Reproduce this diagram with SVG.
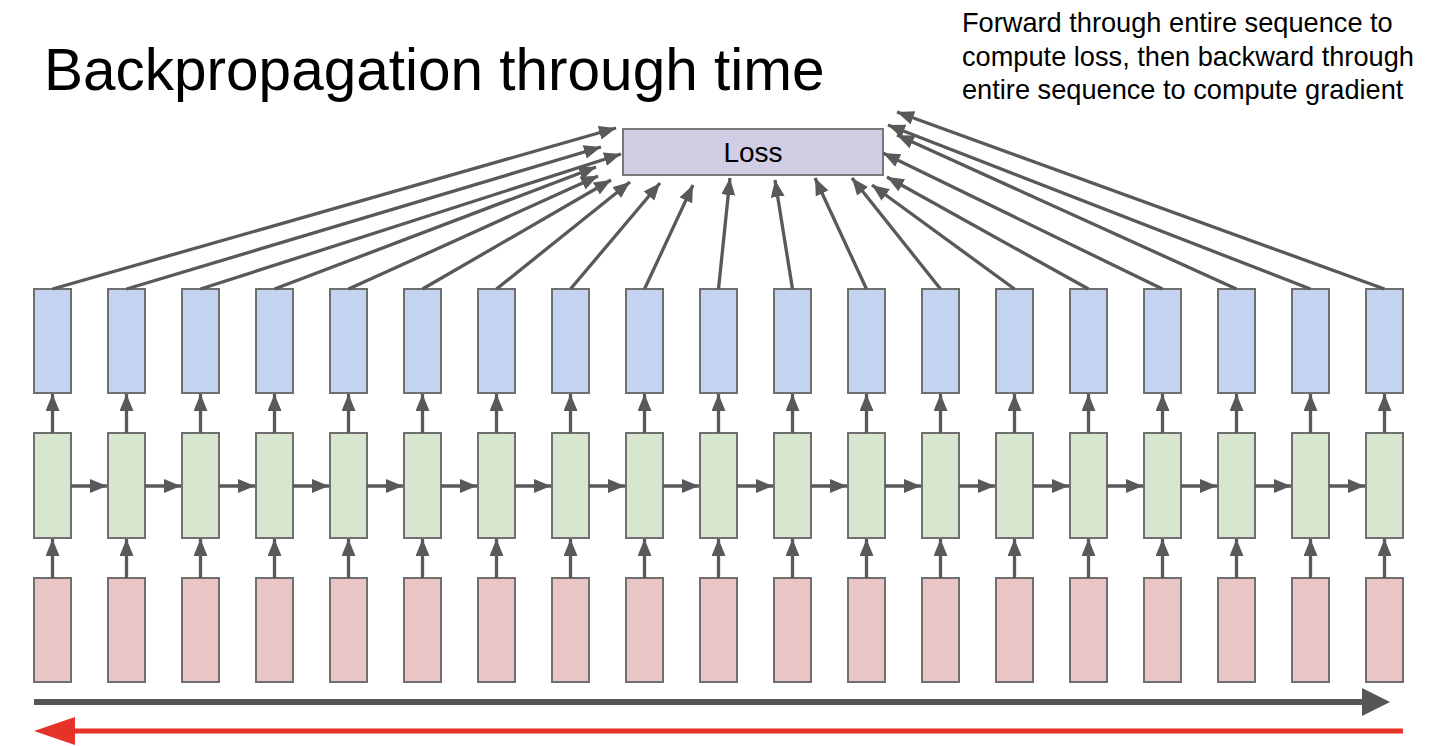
<svg xmlns="http://www.w3.org/2000/svg" width="1446" height="746" viewBox="0 0 1446 746">
<style>
text{font-family:"Liberation Sans",Arial,sans-serif;fill:#000}
.out{fill:#c3d3f0;stroke:#6f6f6f;stroke-width:2}
.hid{fill:#d8e6d0;stroke:#6f6f6f;stroke-width:2}
.inp{fill:#eac5c5;stroke:#6f6f6f;stroke-width:2}
.loss{fill:#d0cde4;stroke:#777;stroke-width:2}
.c{stroke:#595959;stroke-width:3.3;fill:none;marker-end:url(#ah)}
</style>
<defs>
<marker id="ah" markerUnits="userSpaceOnUse" markerWidth="19" markerHeight="15" refX="17" refY="7" orient="auto">
<path d="M0,0 L17,7 L0,14 z" fill="#595959"/>
</marker>
</defs>
<rect width="1446" height="746" fill="#fff"/>
<text x="44" y="90" font-size="58.5">Backpropagation through time</text>
<g font-size="27.2">
<text x="962" y="32">Forward through entire sequence to</text>
<text x="962" y="66">compute loss, then backward through</text>
<text x="962" y="99">entire sequence to compute gradient</text>
</g>
<g id="loss"><rect class="loss" x="623" y="129" width="260" height="46"/><text x="753" y="162" font-size="28" text-anchor="middle">Loss</text></g>
<g id="outputs">
<rect class="out" x="34" y="289" width="37" height="104"/>
<rect class="out" x="108" y="289" width="37" height="104"/>
<rect class="out" x="182" y="289" width="37" height="104"/>
<rect class="out" x="256" y="289" width="37" height="104"/>
<rect class="out" x="330" y="289" width="37" height="104"/>
<rect class="out" x="404" y="289" width="37" height="104"/>
<rect class="out" x="478" y="289" width="37" height="104"/>
<rect class="out" x="552" y="289" width="37" height="104"/>
<rect class="out" x="626" y="289" width="37" height="104"/>
<rect class="out" x="700" y="289" width="37" height="104"/>
<rect class="out" x="774" y="289" width="37" height="104"/>
<rect class="out" x="848" y="289" width="37" height="104"/>
<rect class="out" x="922" y="289" width="37" height="104"/>
<rect class="out" x="996" y="289" width="37" height="104"/>
<rect class="out" x="1070" y="289" width="37" height="104"/>
<rect class="out" x="1144" y="289" width="37" height="104"/>
<rect class="out" x="1218" y="289" width="37" height="104"/>
<rect class="out" x="1292" y="289" width="37" height="104"/>
<rect class="out" x="1366" y="289" width="37" height="104"/>
</g>
<g id="hidden">
<rect class="hid" x="34" y="433" width="37" height="105"/>
<rect class="hid" x="108" y="433" width="37" height="105"/>
<rect class="hid" x="182" y="433" width="37" height="105"/>
<rect class="hid" x="256" y="433" width="37" height="105"/>
<rect class="hid" x="330" y="433" width="37" height="105"/>
<rect class="hid" x="404" y="433" width="37" height="105"/>
<rect class="hid" x="478" y="433" width="37" height="105"/>
<rect class="hid" x="552" y="433" width="37" height="105"/>
<rect class="hid" x="626" y="433" width="37" height="105"/>
<rect class="hid" x="700" y="433" width="37" height="105"/>
<rect class="hid" x="774" y="433" width="37" height="105"/>
<rect class="hid" x="848" y="433" width="37" height="105"/>
<rect class="hid" x="922" y="433" width="37" height="105"/>
<rect class="hid" x="996" y="433" width="37" height="105"/>
<rect class="hid" x="1070" y="433" width="37" height="105"/>
<rect class="hid" x="1144" y="433" width="37" height="105"/>
<rect class="hid" x="1218" y="433" width="37" height="105"/>
<rect class="hid" x="1292" y="433" width="37" height="105"/>
<rect class="hid" x="1366" y="433" width="37" height="105"/>
</g>
<g id="inputs">
<rect class="inp" x="34" y="578" width="37" height="104"/>
<rect class="inp" x="108" y="578" width="37" height="104"/>
<rect class="inp" x="182" y="578" width="37" height="104"/>
<rect class="inp" x="256" y="578" width="37" height="104"/>
<rect class="inp" x="330" y="578" width="37" height="104"/>
<rect class="inp" x="404" y="578" width="37" height="104"/>
<rect class="inp" x="478" y="578" width="37" height="104"/>
<rect class="inp" x="552" y="578" width="37" height="104"/>
<rect class="inp" x="626" y="578" width="37" height="104"/>
<rect class="inp" x="700" y="578" width="37" height="104"/>
<rect class="inp" x="774" y="578" width="37" height="104"/>
<rect class="inp" x="848" y="578" width="37" height="104"/>
<rect class="inp" x="922" y="578" width="37" height="104"/>
<rect class="inp" x="996" y="578" width="37" height="104"/>
<rect class="inp" x="1070" y="578" width="37" height="104"/>
<rect class="inp" x="1144" y="578" width="37" height="104"/>
<rect class="inp" x="1218" y="578" width="37" height="104"/>
<rect class="inp" x="1292" y="578" width="37" height="104"/>
<rect class="inp" x="1366" y="578" width="37" height="104"/>
</g>
<g id="connectors">
<g id="to-loss">
<line class="c" x1="52.5" y1="289" x2="616" y2="128"/>
<line class="c" x1="126.5" y1="289" x2="601" y2="147"/>
<line class="c" x1="200.5" y1="289" x2="621" y2="154"/>
<line class="c" x1="274.5" y1="289" x2="596" y2="167"/>
<line class="c" x1="348.5" y1="289" x2="598" y2="176"/>
<line class="c" x1="422.5" y1="289" x2="611" y2="180"/>
<line class="c" x1="496.5" y1="289" x2="630" y2="182"/>
<line class="c" x1="570.5" y1="289" x2="660" y2="183"/>
<line class="c" x1="644.5" y1="289" x2="693" y2="185"/>
<line class="c" x1="718.5" y1="289" x2="730" y2="178"/>
<line class="c" x1="792.5" y1="289" x2="775" y2="180"/>
<line class="c" x1="866.5" y1="289" x2="815" y2="178"/>
<line class="c" x1="940.5" y1="289" x2="852" y2="178"/>
<line class="c" x1="1014.5" y1="289" x2="872" y2="185"/>
<line class="c" x1="1088.5" y1="289" x2="887" y2="177"/>
<line class="c" x1="1162.5" y1="289" x2="883" y2="153"/>
<line class="c" x1="1236.5" y1="289" x2="897" y2="135"/>
<line class="c" x1="1310.5" y1="289" x2="888" y2="125"/>
<line class="c" x1="1384.5" y1="289" x2="897" y2="112"/>
</g>
<g id="hid-to-out">
<line class="c" x1="52.5" y1="433" x2="52.5" y2="394"/>
<line class="c" x1="126.5" y1="433" x2="126.5" y2="394"/>
<line class="c" x1="200.5" y1="433" x2="200.5" y2="394"/>
<line class="c" x1="274.5" y1="433" x2="274.5" y2="394"/>
<line class="c" x1="348.5" y1="433" x2="348.5" y2="394"/>
<line class="c" x1="422.5" y1="433" x2="422.5" y2="394"/>
<line class="c" x1="496.5" y1="433" x2="496.5" y2="394"/>
<line class="c" x1="570.5" y1="433" x2="570.5" y2="394"/>
<line class="c" x1="644.5" y1="433" x2="644.5" y2="394"/>
<line class="c" x1="718.5" y1="433" x2="718.5" y2="394"/>
<line class="c" x1="792.5" y1="433" x2="792.5" y2="394"/>
<line class="c" x1="866.5" y1="433" x2="866.5" y2="394"/>
<line class="c" x1="940.5" y1="433" x2="940.5" y2="394"/>
<line class="c" x1="1014.5" y1="433" x2="1014.5" y2="394"/>
<line class="c" x1="1088.5" y1="433" x2="1088.5" y2="394"/>
<line class="c" x1="1162.5" y1="433" x2="1162.5" y2="394"/>
<line class="c" x1="1236.5" y1="433" x2="1236.5" y2="394"/>
<line class="c" x1="1310.5" y1="433" x2="1310.5" y2="394"/>
<line class="c" x1="1384.5" y1="433" x2="1384.5" y2="394"/>
</g>
<g id="in-to-hid">
<line class="c" x1="52.5" y1="578" x2="52.5" y2="539"/>
<line class="c" x1="126.5" y1="578" x2="126.5" y2="539"/>
<line class="c" x1="200.5" y1="578" x2="200.5" y2="539"/>
<line class="c" x1="274.5" y1="578" x2="274.5" y2="539"/>
<line class="c" x1="348.5" y1="578" x2="348.5" y2="539"/>
<line class="c" x1="422.5" y1="578" x2="422.5" y2="539"/>
<line class="c" x1="496.5" y1="578" x2="496.5" y2="539"/>
<line class="c" x1="570.5" y1="578" x2="570.5" y2="539"/>
<line class="c" x1="644.5" y1="578" x2="644.5" y2="539"/>
<line class="c" x1="718.5" y1="578" x2="718.5" y2="539"/>
<line class="c" x1="792.5" y1="578" x2="792.5" y2="539"/>
<line class="c" x1="866.5" y1="578" x2="866.5" y2="539"/>
<line class="c" x1="940.5" y1="578" x2="940.5" y2="539"/>
<line class="c" x1="1014.5" y1="578" x2="1014.5" y2="539"/>
<line class="c" x1="1088.5" y1="578" x2="1088.5" y2="539"/>
<line class="c" x1="1162.5" y1="578" x2="1162.5" y2="539"/>
<line class="c" x1="1236.5" y1="578" x2="1236.5" y2="539"/>
<line class="c" x1="1310.5" y1="578" x2="1310.5" y2="539"/>
<line class="c" x1="1384.5" y1="578" x2="1384.5" y2="539"/>
</g>
<g id="hid-to-hid">
<line class="c" x1="71" y1="486" x2="107" y2="486"/>
<line class="c" x1="145" y1="486" x2="181" y2="486"/>
<line class="c" x1="219" y1="486" x2="255" y2="486"/>
<line class="c" x1="293" y1="486" x2="329" y2="486"/>
<line class="c" x1="367" y1="486" x2="403" y2="486"/>
<line class="c" x1="441" y1="486" x2="477" y2="486"/>
<line class="c" x1="515" y1="486" x2="551" y2="486"/>
<line class="c" x1="589" y1="486" x2="625" y2="486"/>
<line class="c" x1="663" y1="486" x2="699" y2="486"/>
<line class="c" x1="737" y1="486" x2="773" y2="486"/>
<line class="c" x1="811" y1="486" x2="847" y2="486"/>
<line class="c" x1="885" y1="486" x2="921" y2="486"/>
<line class="c" x1="959" y1="486" x2="995" y2="486"/>
<line class="c" x1="1033" y1="486" x2="1069" y2="486"/>
<line class="c" x1="1107" y1="486" x2="1143" y2="486"/>
<line class="c" x1="1181" y1="486" x2="1217" y2="486"/>
<line class="c" x1="1255" y1="486" x2="1291" y2="486"/>
<line class="c" x1="1329" y1="486" x2="1365" y2="486"/>
</g>
<g id="time-arrows">
<line x1="34" y1="702" x2="1366" y2="702" stroke="#555" stroke-width="6"/>
<path d="M1362,688 L1390,702 L1362,716 z" fill="#555"/>
<line x1="72" y1="731" x2="1403" y2="731" stroke="#e5332a" stroke-width="5"/>
<path d="M75,717 L34,731 L75,745 z" fill="#e5332a"/>
</g>
</g>
</svg>
